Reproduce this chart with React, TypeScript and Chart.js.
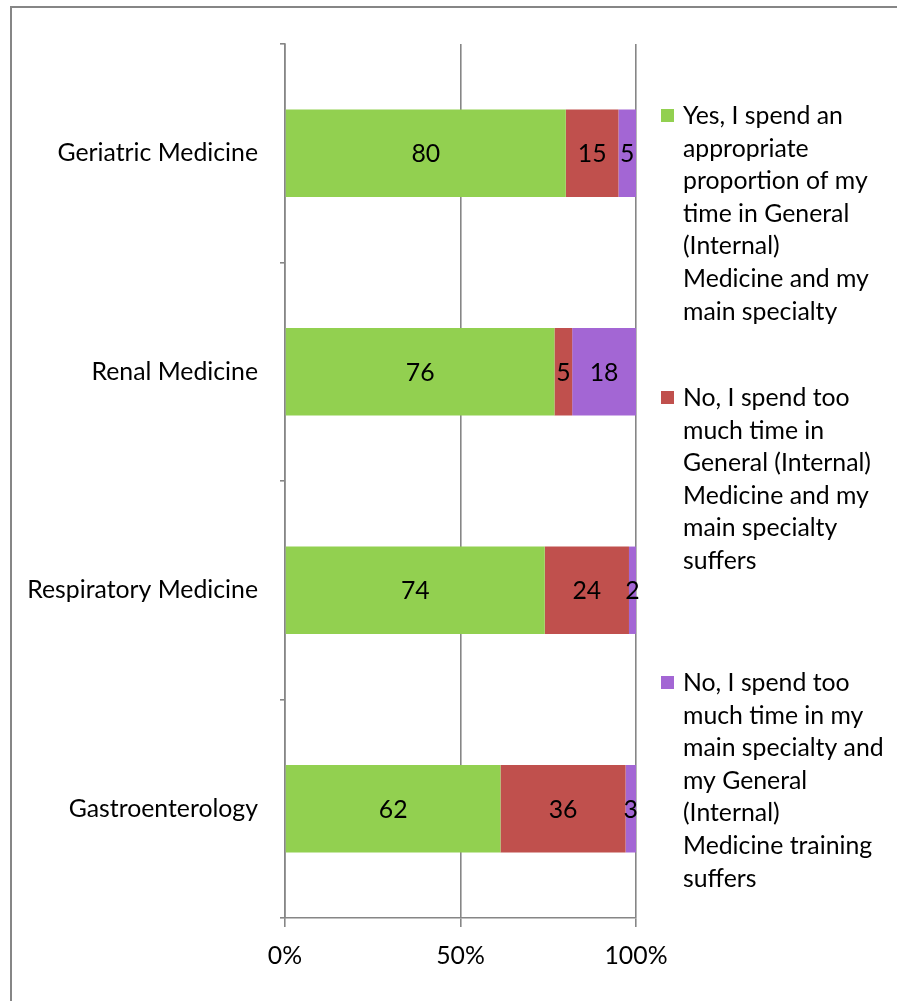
import React, { useEffect, useRef } from 'react';
import { Chart, registerables } from 'chart.js';

Chart.register(...registerables);

const categories = ['Geriatric Medicine', 'Renal Medicine', 'Respiratory Medicine', 'Gastroenterology'];
const yesAppropriate = [80, 76, 74, 62];
const tooMuchGeneral = [15, 5, 24, 36];
const tooMuchSpecialty = [5, 18, 2, 3];
const rawSeries = [yesAppropriate, tooMuchGeneral, tooMuchSpecialty];

const legendLines = [
  ['Yes, I spend an', 'appropriate', 'proportion of my', 'time in General', '(Internal)', 'Medicine and my', 'main specialty'],
  ['No, I spend too', 'much time in', 'General (Internal)', 'Medicine and my', 'main specialty', 'suffers'],
  ['No, I spend too', 'much time in my', 'main specialty and', 'my General', '(Internal)', 'Medicine training', 'suffers'],
];
const seriesNames = legendLines.map((l) => l.join(' '));
const seriesColors = ['#92D050', '#C0504D', '#A366D4'];
const xTickValues = [0, 50, 100];

const FONT_FAMILY = 'Lato, "Open Sans", sans-serif';
const FONT_SIZE = 24.8;
const AXIS_COLOR = '#868686';

const totals = categories.map((_, i) => rawSeries.reduce((s, arr) => s + arr[i], 0));
const pctSeries = rawSeries.map((arr) => arr.map((v, i) => (v / totals[i]) * 100));

const frameAndLabels = {
  id: 'frameAndLabels',
  beforeDraw(chart: any) {
    const ctx = chart.ctx;
    ctx.save();
    ctx.strokeStyle = AXIS_COLOR;
    ctx.lineWidth = 2;
    ctx.beginPath();
    ctx.moveTo(11, chart.height + 5);
    ctx.lineTo(11, 7);
    ctx.lineTo(chart.width + 5, 7);
    ctx.stroke();
    ctx.restore();
  },
  afterDatasetsDraw(chart: any) {
    const ctx = chart.ctx;
    ctx.save();
    ctx.font = `${FONT_SIZE}px ${FONT_FAMILY}`;
    ctx.fillStyle = '#000';
    ctx.textAlign = 'center';
    ctx.textBaseline = 'middle';
    chart.data.datasets.forEach((ds: any, di: number) => {
      const meta = chart.getDatasetMeta(di);
      meta.data.forEach((el: any, i: number) => {
        const p = el.getProps(['x', 'y', 'base'], true);
        ctx.fillText(String(rawSeries[di][i]), (p.x + p.base) / 2, p.y + 1);
      });
    });
    ctx.restore();
  },
  afterDraw(chart: any) {
    const ctx = chart.ctx;
    const area = chart.chartArea;
    const markerX = area.right + 25;
    const textX = area.right + 47;
    const firstLineY = [116, 398, 683];
    const lineH = 32.6;
    ctx.save();
    ctx.font = `${FONT_SIZE}px ${FONT_FAMILY}`;
    ctx.textAlign = 'left';
    ctx.textBaseline = 'middle';
    legendLines.forEach((lines, i) => {
      ctx.fillStyle = seriesColors[i];
      ctx.fillRect(markerX, firstLineY[i] - 7, 13, 13);
      ctx.fillStyle = '#000';
      lines.forEach((t, j) => ctx.fillText(t, textX, firstLineY[i] + j * lineH));
    });
    ctx.restore();
  },
};

export default function App() {
  const ref = useRef<HTMLCanvasElement>(null);
  useEffect(() => {
    if (!ref.current) return;
    const chart = new Chart(ref.current, {
      type: 'bar',
      data: {
        labels: categories,
        datasets: pctSeries.map((d, i) => ({
          label: seriesNames[i],
          data: d,
          backgroundColor: seriesColors[i],
          borderWidth: 0,
          categoryPercentage: 1,
          barPercentage: 0.4,
        })),
      },
      options: {
        indexAxis: 'y',
        responsive: false,
        animation: false,
        layout: { padding: { left: 0, right: 261, top: 44, bottom: 0 } },
        plugins: { legend: { display: false }, tooltip: { enabled: false } },
        scales: {
          x: {
            stacked: true,
            min: 0,
            max: 100,
            afterBuildTicks: (scale: any) => {
              scale.ticks = xTickValues.map((v) => ({ value: v }));
            },
            afterFit: (scale: any) => {
              scale.height = 83;
            },
            ticks: {
              callback: (v: any) => v + '%',
              color: '#000',
              font: { family: FONT_FAMILY, size: FONT_SIZE },
              padding: 14,
              maxRotation: 0,
            },
            grid: { color: AXIS_COLOR, lineWidth: 1.6, tickLength: 9 },
            border: { display: true, color: AXIS_COLOR, width: 1.6 },
          },
          y: {
            stacked: true,
            afterFit: (scale: any) => {
              scale.width = 285;
            },
            ticks: {
              color: '#000',
              font: { family: FONT_FAMILY, size: FONT_SIZE },
              padding: 22,
            },
            grid: { drawOnChartArea: false, offset: true, color: AXIS_COLOR, lineWidth: 1.6, tickLength: 5 },
            border: { display: true, color: AXIS_COLOR, width: 1.6 },
          },
        },
      },
      plugins: [frameAndLabels],
    });
    return () => chart.destroy();
  }, []);
  return (
    <div style={{ position: 'fixed', left: 0, top: 0, width: 897, height: 1001, background: '#fff' }}>
      <canvas ref={ref} width={897} height={1001} />
    </div>
  );
}
